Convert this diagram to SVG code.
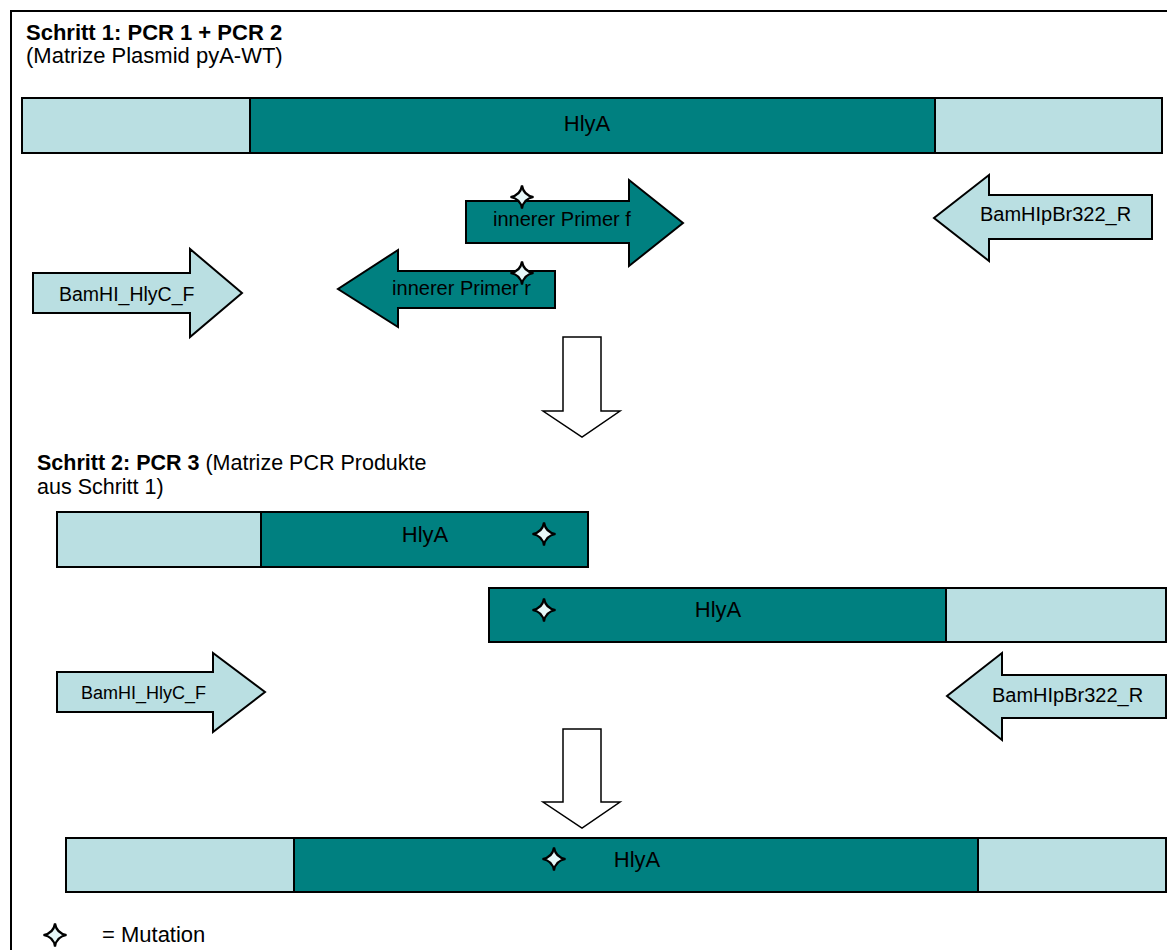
<svg xmlns="http://www.w3.org/2000/svg" width="1167" height="950" viewBox="0 0 1167 950">
<style>
.lt{fill:#badfe2;stroke:#000;stroke-width:2}
.dk{fill:#008080;stroke:#000;stroke-width:2}
.wt{fill:#fff;stroke:#000;stroke-width:1.5}
text{font-family:"Liberation Sans",Arial,sans-serif;fill:#000}
.t{font-size:22px}
.b{font-weight:bold}
.l20{font-size:20px}
.c{text-anchor:middle}
</style>
<defs>
<path id="star" d="M0,-11.5 Q1.6,-1.6 11.5,0 Q1.6,1.6 0,11.5 Q-1.6,1.6 -11.5,0 Q-1.6,-1.6 0,-11.5Z" fill="#e6f7f8" stroke="#000" stroke-width="2.2" stroke-linejoin="miter"/>
</defs>
<rect id="frame" x="11" y="11" width="1200" height="1000" fill="none" stroke="#000" stroke-width="2"/>

<g id="title1">
<text class="t b" x="26" y="40">Schritt 1: PCR 1 + PCR 2</text>
<text class="t" x="26" y="63">(Matrize Plasmid pyA-WT)</text>
</g>

<g id="bar1">
<rect class="lt" x="22" y="98" width="228" height="55"/>
<rect class="lt" x="935" y="98" width="227" height="55"/>
<rect class="dk" x="250" y="98" width="685" height="55"/>
<text class="t c" x="587" y="131">HlyA</text>
</g>

<g id="primer-f">
<polygon class="dk" points="466,201 629,201 629,180 683,223 629,266 629,243 466,243"/>
<text class="l20" x="493" y="226">innerer Primer f</text>
<use href="#star" x="522" y="197"/>
</g>

<g id="primer-r">
<polygon class="dk" points="555,271 398,271 398,250 338,289 398,327 398,308 555,308"/>
<text class="l20" x="531" y="295" text-anchor="end">innerer Primer r</text>
<use href="#star" x="522" y="273"/>
</g>

<g id="bamhi-r-1">
<polygon class="lt" points="1152,195 989,195 989,175 934,218 989,261 989,239 1152,239"/>
<text class="l20" x="980" y="221">BamHIpBr322_R</text>
</g>

<g id="bamhi-f-1">
<polygon class="lt" points="33,273 190,273 190,249 242,293 190,337 190,313 33,313"/>
<text x="59" y="301" font-size="19.5">BamHI_HlyC_F</text>
</g>

<g id="title2">
<text x="37" y="470" font-size="21.5"><tspan class="b">Schritt 2: PCR 3</tspan> (Matrize PCR Produkte</text>
<text x="37" y="494" font-size="21.5">aus Schritt 1)</text>
</g>

<g id="bar2a">
<rect class="lt" x="57" y="512" width="204" height="55"/>
<rect class="dk" x="261" y="512" width="327" height="55"/>
<text class="t c" x="425" y="542">HlyA</text>
<use href="#star" x="544" y="534"/>
</g>

<g id="bar2b">
<rect class="dk" x="489" y="588" width="457" height="54"/>
<rect class="lt" x="946" y="588" width="220" height="54"/>
<text class="t c" x="718" y="617">HlyA</text>
<use href="#star" x="544" y="610"/>
</g>

<g id="bamhi-f-2">
<polygon class="lt" points="57,672 213,672 213,653 265,692 213,732 213,712 57,712"/>
<text x="81" y="699" font-size="18">BamHI_HlyC_F</text>
</g>

<g id="bamhi-r-2">
<polygon class="lt" points="1166,675 1002,675 1002,653 947,696 1002,740 1002,718 1166,718"/>
<text class="l20" x="992" y="702">BamHIpBr322_R</text>
</g>

<g id="bar3">
<rect class="lt" x="66" y="838" width="228" height="54"/>
<rect class="lt" x="978" y="838" width="188" height="54"/>
<rect class="dk" x="294" y="838" width="684" height="54"/>
<text class="t c" x="637" y="867">HlyA</text>
<use href="#star" x="554" y="859"/>
</g>

<g id="connectors">
<polygon class="wt" points="563,337 601,337 601,411 620,411 582,437 543,411 563,411"/>
<polygon class="wt" points="563,729 601,729 601,802 620,802 582,828 543,802 563,802"/>
</g>

<g id="legend">
<use href="#star" x="55" y="935"/>
<text class="t" x="102" y="942">= Mutation</text>
</g>
</svg>
